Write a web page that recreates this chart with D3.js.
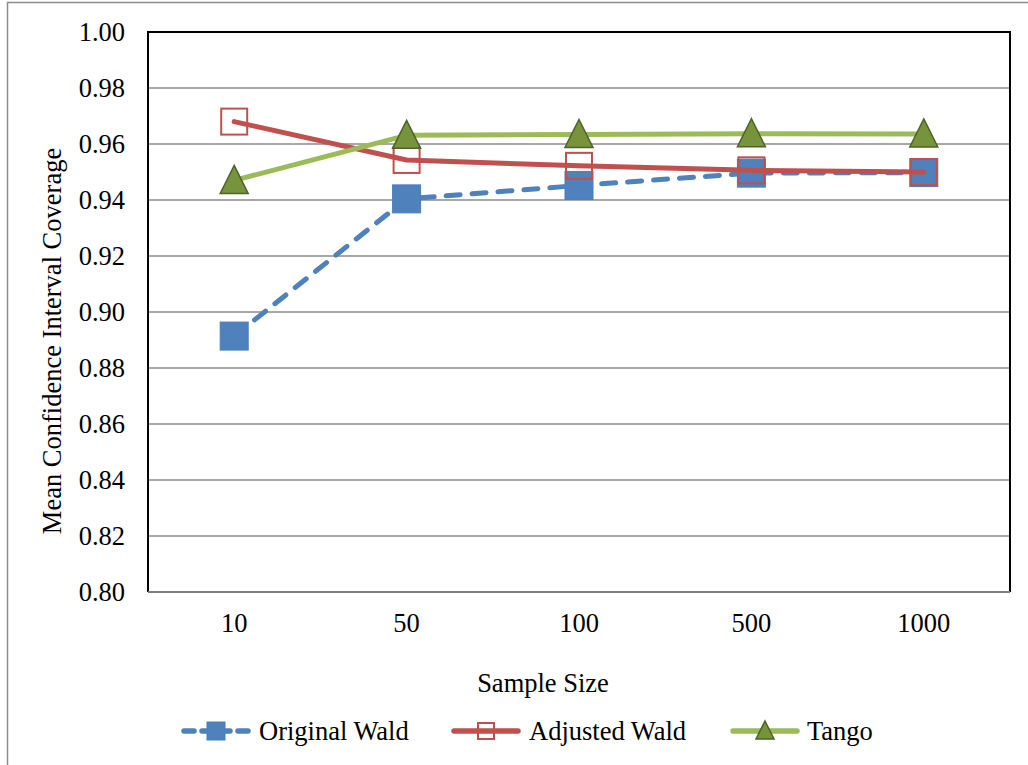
<!DOCTYPE html>
<html>
<head>
<meta charset="utf-8">
<script src="https://cdn.jsdelivr.net/npm/d3@7"></script>
<style>
  body { margin: 0; background: #fff; }
  svg text { font-family: "Liberation Serif", "Tinos", "Times New Roman", "DejaVu Serif", serif; fill: #000; }
</style>
</head>
<body>
<div id="chart"></div>
<script>
// DATA
const sampleSizes = ["10", "50", "100", "500", "1000"];
const originalWald = [0.8914, 0.9404, 0.9452, 0.9496, 0.9498];
const adjustedWald = [0.9680, 0.9543, 0.9522, 0.9506, 0.9500];
const tango = [0.9470, 0.9631, 0.9634, 0.9637, 0.9636];
const yTicks = [0.80, 0.82, 0.84, 0.86, 0.88, 0.90, 0.92, 0.94, 0.96, 0.98, 1.00];

const FONT = "'Liberation Serif', 'Tinos', 'Times New Roman', 'DejaVu Serif', serif";
const FS = 26.5;

const series = [
    { name: "Original Wald", values: originalWald, color: "#4F81BD", dash: "14,12", marker: "square" },
    { name: "Adjusted Wald", values: adjustedWald, color: "#C0504D", dash: null, marker: "hollow" },
    { name: "Tango", values: tango, color: "#9BBB59", dash: null, marker: "triangle" }
];

// LAYOUT
const W = 1028, H = 765;
const plot = { left: 148, top: 32, right: 1010, bottom: 592 };

const svg = d3.select("#chart").append("svg")
    .attr("width", W)
    .attr("height", H)
    .attr("font-family", FONT);

// cadre exterieur
svg.append("rect")
    .attr("x", 7.5).attr("y", 2.5)
    .attr("width", W + 10).attr("height", H + 10)
    .style("fill", "none")
    .style("stroke", "#8c8c8c")
    .style("stroke-width", 1.5);

const x = d3.scaleBand()
    .domain(sampleSizes)
    .range([plot.left, plot.right]);

const y = d3.scaleLinear()
    .domain([0.80, 1.00])
    .range([plot.bottom, plot.top]);

// gridlines
svg.append("g")
    .selectAll("line")
    .data(yTicks)
    .join("line")
    .attr("x1", plot.left).attr("x2", plot.right)
    .attr("y1", d => y(d)).attr("y2", d => y(d))
    .style("stroke", "#8a8a8a")
    .style("stroke-width", 1.3);

// y axis labels
const yAxis = d3.axisLeft(y).tickValues(yTicks).tickFormat(d3.format(".2f")).tickSize(0).tickPadding(23);
svg.append("g")
    .attr("transform", `translate(${plot.left},0)`)
    .call(yAxis)
    .attr("font-family", FONT)
    .attr("font-size", FS)
    .call(g => g.select(".domain").remove())
    .selectAll("text")
    .attr("dy", "0.33em");

// x axis labels
const xAxis = d3.axisBottom(x).tickSize(0).tickPadding(21);
svg.append("g")
    .attr("transform", `translate(0,${plot.bottom})`)
    .call(xAxis)
    .attr("font-family", FONT)
    .attr("font-size", FS)
    .call(g => g.select(".domain").remove());

// plot border
svg.append("path")
    .attr("d", `M${plot.left},${plot.bottom} V${plot.top} H${plot.right} V${plot.bottom}`)
    .style("fill", "none")
    .style("stroke", "#000")
    .style("stroke-width", 2);
svg.append("line")
    .attr("x1", plot.left).attr("x2", plot.right)
    .attr("y1", plot.bottom).attr("y2", plot.bottom)
    .style("stroke", "#7f7f7f")
    .style("stroke-width", 2);

// axis titles
svg.append("text")
    .attr("transform", `translate(61,341) rotate(-90)`)
    .attr("text-anchor", "middle")
    .attr("font-size", FS)
    .text("Mean Confidence Interval Coverage");

svg.append("text")
    .attr("x", 543).attr("y", 692)
    .attr("text-anchor", "middle")
    .attr("font-size", FS)
    .text("Sample Size");

// marker drawing
function drawMarker(g, type, size) {
    if (type === "square") {
        g.append("rect")
            .attr("x", -size / 2).attr("y", -size / 2)
            .attr("width", size).attr("height", size)
            .style("fill", "#4F81BD")
            .style("stroke", "#4A7EBB")
            .style("stroke-width", 1);
    } else if (type === "hollow") {
        g.append("rect")
            .attr("x", -size / 2 + 1).attr("y", -size / 2 + 1)
            .attr("width", size - 2).attr("height", size - 2)
            .style("fill", "none")
            .style("stroke", "#C0504D")
            .style("stroke-width", 2);
    } else {
        const h = size;
        g.append("path")
            .attr("d", `M0,${-h / 2 - 1} L${size / 2},${h / 2 - 1} L${-size / 2},${h / 2 - 1} Z`)
            .style("fill", "#77933C")
            .style("stroke", "#4F6228")
            .style("stroke-width", 1.5);
    }
}

const cx = d => x(d) + x.bandwidth() / 2;

const line = d3.line()
    .x(d => cx(d.cat))
    .y(d => y(d.v));

// SERIES
series.forEach(s => {
    const pts = s.values.map((v, i) => ({ cat: sampleSizes[i], v }));
    const g = svg.append("g");
    g.append("path")
        .datum(pts)
        .attr("d", line)
        .style("fill", "none")
        .style("stroke", s.color)
        .style("stroke-width", 5)
        .style("stroke-linecap", "round")
        .style("stroke-linejoin", "round")
        .style("stroke-dasharray", s.dash);
    pts.forEach(p => {
        const m = g.append("g").attr("transform", `translate(${cx(p.cat)},${y(p.v)})`);
        drawMarker(m, s.marker, 28);
    });
});

// LEGEND
const legendItems = [
    { x: 184, tx: 259 },
    { x: 454, tx: 529 },
    { x: 733, tx: 807 }
];
series.forEach((s, i) => {
    const it = legendItems[i];
    const ly = 731;
    const len = 64;
    const g = svg.append("g");
    g.append("line")
        .attr("x1", it.x).attr("x2", it.x + len)
        .attr("y1", ly).attr("y2", ly)
        .style("stroke", s.color)
        .style("stroke-width", 5.5)
        .style("stroke-linecap", "round")
        .style("stroke-dasharray", s.dash ? "10,8" : null);
    const m = g.append("g").attr("transform", `translate(${it.x + len / 2},${ly})`);
    drawMarker(m, s.marker, 18);
    g.append("text")
        .attr("x", it.tx).attr("y", ly)
        .attr("dy", "0.33em")
        .attr("font-size", FS)
        .text(s.name);
});
</script>
</body>
</html>
